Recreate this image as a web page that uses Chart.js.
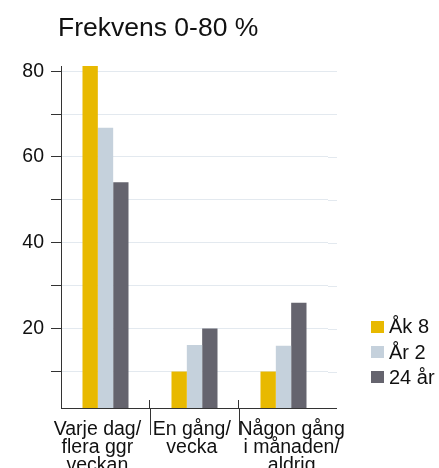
<!DOCTYPE html>
<html>
<head>
<meta charset="utf-8">
<script src="https://cdn.jsdelivr.net/npm/chart.js@4/dist/chart.umd.min.js"></script>
<style>
  html, body { margin: 0; padding: 0; background: #fff; }
  #wrap { position: relative; width: 439px; height: 468px; overflow: hidden; }
  #title { position: absolute; left: 58px; top: 14px; font: 26.5px/26px "Liberation Sans", Arial, sans-serif; color: #111; white-space: nowrap; }
  #legend { position: absolute; left: 371px; top: 314px; font: 20px "Liberation Sans", Arial, sans-serif; color: #111; }
  .row { display: flex; align-items: center; height: 25.4px; white-space: nowrap; }
  .box { width: 13px; height: 12px; margin-right: 5px; flex: none; }
  canvas { position: absolute; left: 0; top: 0; }
</style>
</head>
<body>
<div id="wrap">
  <canvas id="c" width="439" height="468"></canvas>
  <div id="title"></div>
  <div id="legend"></div>
</div>
<script>
const titleText = "Frekvens 0-80 %";
const categories = [
  ["Varje dag/", "flera ggr", "veckan"],
  ["En gång/", "vecka"],
  ["Någon gång", "i månaden/", "aldrig"]
];
const seriesNames = ["Åk 8", "År 2", "24 år"];
const seriesColors = ["#e8b900", "#c5d1dc", "#65646e"];
const ak8 = [81.2, 10, 10];
const ar2 = [66.8, 16.2, 16];
const ar24 = [54.1, 20, 26];
const yTickValues = [10, 20, 30, 40, 50, 60, 70, 80];
const yLabelValues = [20, 40, 60, 80];

// label nudging (style only): spaces before / after each category's lines
const labelLead = [0, 0, 3];
const labelTrail = [3, 1, 0];

document.getElementById('title').textContent = titleText;
const seriesData = [ak8, ar2, ar24];
const legendEl = document.getElementById('legend');
seriesNames.forEach((n, i) => {
  const r = document.createElement('div'); r.className = 'row';
  const b = document.createElement('div'); b.className = 'box'; b.style.background = seriesColors[i];
  const t = document.createElement('span'); t.textContent = n;
  r.appendChild(b); r.appendChild(t); legendEl.appendChild(r);
});

const GRID = '#e3e9ef';
const AXIS = '#333333';
const EXT_RIGHT = 337;

const extendPlugin = {
  id: 'extend',
  beforeDatasetsDraw(chart) {
    const ctx = chart.ctx, a = chart.chartArea;
    const y = chart.scales.y, x = chart.scales.x;
    ctx.save();
    ctx.lineWidth = 1;
    ctx.strokeStyle = GRID;
    y.ticks.forEach(t => {
      const py = Math.round(y.getPixelForValue(t.value)) + 0.5;
      ctx.beginPath(); ctx.moveTo(a.right, py); ctx.lineTo(EXT_RIGHT, py); ctx.stroke();
    });
    ctx.strokeStyle = AXIS;
    const by = Math.round(a.bottom) + 0.5;
    ctx.beginPath(); ctx.moveTo(a.right, by); ctx.lineTo(EXT_RIGHT, by); ctx.stroke();
    for (let i = 1; i < categories.length; i++) {
      const px = Math.round((x.getPixelForTick(i - 1) + x.getPixelForTick(i)) / 2) - 1 + 0.5;
      ctx.beginPath(); ctx.moveTo(px, a.bottom - 8); ctx.lineTo(px, a.bottom); ctx.stroke();
    }
    ctx.restore();
  }
};

new Chart(document.getElementById('c'), {
  type: 'bar',
  data: {
    labels: categories,
    datasets: seriesNames.map((n, i) => ({
      label: n,
      data: seriesData[i],
      backgroundColor: seriesColors[i],
      borderWidth: 0,
      categoryPercentage: 0.517,
      barPercentage: 1.0
    }))
  },
  options: {
    responsive: false,
    animation: false,
    layout: { padding: { left: 0, top: 66, right: 111, bottom: 0 } },
    plugins: { legend: { display: false }, title: { display: false }, tooltip: { enabled: false } },
    scales: {
      x: {
        afterFit(s) { s.height = 60; },
        grid: {
          offset: true,
          drawOnChartArea: false,
          tickLength: 27,
          tickColor: (c) => (c.type === 'tick' && c.index > 0 && c.index < categories.length) ? AXIS : 'rgba(0,0,0,0)',
          color: 'rgba(0,0,0,0)'
        },
        border: { color: AXIS, width: 1 },
        ticks: {
          padding: -14,
          maxRotation: 0, autoSkip: false,
          color: '#111',
          font: { family: '"Liberation Sans", Arial, sans-serif', size: 19.5, lineHeight: 0.92 },
          callback: function (v, i) {
            const lines = categories[i];
            return lines.map(l => ' '.repeat(labelLead[i]) + l + ' '.repeat(labelTrail[i]));
          }
        }
      },
      y: {
        min: 1.5,
        max: 81.2,
        afterFit(s) { s.width = 61; },
        afterBuildTicks(s) { s.ticks = yTickValues.map(v => ({ value: v })); },
        grid: { color: GRID, tickColor: AXIS, tickLength: 10, drawTicks: true },
        border: { color: AXIS, width: 1 },
        ticks: {
          padding: 7,
          color: '#111',
          font: { family: '"Liberation Sans", Arial, sans-serif', size: 19.5 },
          callback: (v) => yLabelValues.includes(v) ? String(v) : ''
        }
      }
    }
  },
  plugins: [extendPlugin]
});
</script>
</body>
</html>
